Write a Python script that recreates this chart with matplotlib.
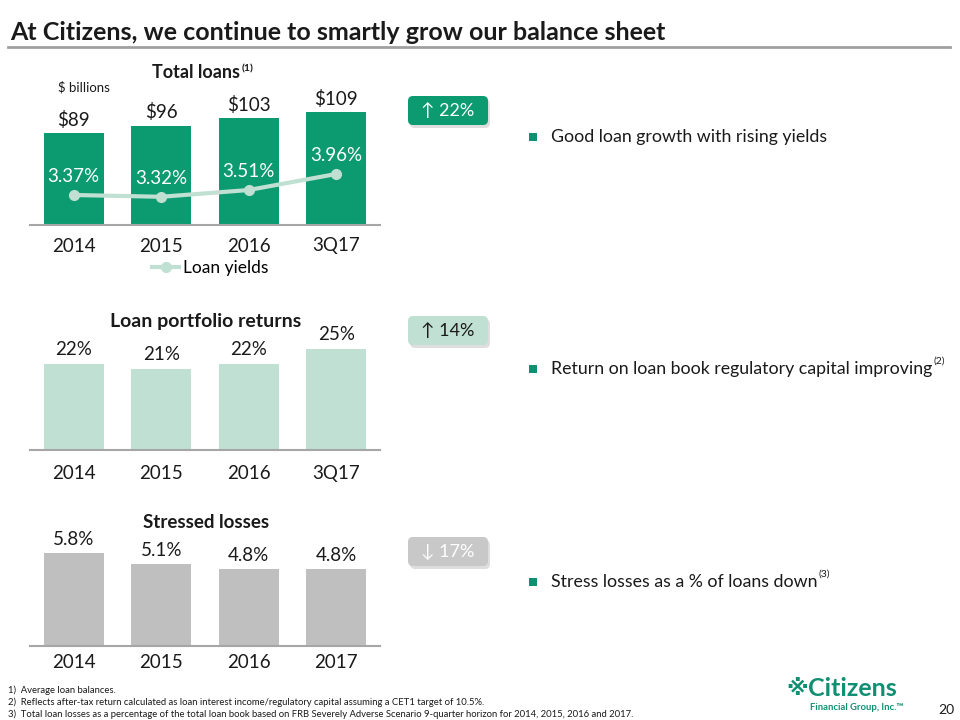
import matplotlib
matplotlib.use('Agg')
import matplotlib.pyplot as plt
from matplotlib.patches import FancyBboxPatch, Rectangle
from matplotlib.lines import Line2D

plt.rcParams['font.family'] = ['Lato', 'DejaVu Sans']

# data
years_a = ['2014', '2015', '2016', '3Q17']
years_b = ['2014', '2015', '2016', '2017']
total_loans = [89, 96, 103, 109]           # $ billions
loan_yields = [3.37, 3.32, 3.51, 3.96]      # %
portfolio_returns = [22, 21, 22, 25]        # %
stressed_losses = [5.8, 5.1, 4.8, 4.8]      # %

badges = ['\u2191 22%', '\u2191 14%', '\u2193 17%']
bullets = ['Good loan growth with rising yields',
           'Return on loan book regulatory capital improving',
           'Stress losses as a % of loans down']
bullet_notes = ['', '(2)', '(3)']
footnotes = ['1)  Average loan balances.',
             '2)  Reflects after-tax return calculated as loan interest income/regulatory capital assuming a CET1 target of 10.5%.',
             '3)  Total loan losses as a percentage of the total loan book based on FRB Severely Adverse Scenario 9-quarter horizon for 2014, 2015, 2016 and 2017.']

GREEN = '#0c9a70'
LIGHT = '#bfe0d2'
GREY = '#bfbfbf'
TXT = '#1a1a1a'

W, H = 960, 720
fig = plt.figure(figsize=(9.6, 7.2), dpi=100)


def px(x0, y0, x1, y1):
    return [x0 / W, 1 - y1 / H, (x1 - x0) / W, (y1 - y0) / H]


def style(ax, labels, pad):
    for s in ['top', 'left', 'right']:
        ax.spines[s].set_visible(False)
    ax.spines['bottom'].set_color('#a6a6a6')
    ax.spines['bottom'].set_linewidth(1.5)
    ax.set_yticks([])
    ax.set_xticks(range(len(labels)))
    ax.set_xticklabels(labels, fontsize=13.5, color=TXT)
    ax.tick_params(axis='x', length=0, pad=pad)
    ax.set_xlim(-0.5, 3.5)
    ax.patch.set_visible(False)


# chart 1: total loans + loan yields
ax1 = fig.add_axes(px(30, 80, 380, 225))
ax1.bar(range(4), total_loans, width=0.69, color=GREEN, zorder=2)
ax1.set_ylim(0, 140)
style(ax1, years_a, 9)
for i, v in enumerate(total_loans):
    ax1.annotate(f'${v}', (i, v), xytext=(0, 3), textcoords='offset points',
                 ha='center', va='bottom', fontsize=13.5, color=TXT)
ax1b = ax1.twinx()
ax1b.set_ylim(2.527, 6.60)
ax1b.axis('off')
ln, = ax1b.plot(range(4), loan_yields, color=LIGHT, lw=3, marker='o', ms=7,
                label='Loan yields', zorder=3)
for i, v in enumerate(loan_yields):
    ax1b.annotate(f'{v:.2f}%', (i, v), xytext=(0, 7), textcoords='offset points',
                  ha='center', va='bottom', fontsize=13.5, color='white')
fig.legend(handles=[ln], loc='center', bbox_to_anchor=(210 / W, 1 - 268 / H),
           frameon=False, fontsize=12.5, handlelength=1.6, handletextpad=0.2)

# chart 2: loan portfolio returns
ax2 = fig.add_axes(px(30, 330, 380, 450))
ax2.bar(range(4), portfolio_returns, width=0.69, color=LIGHT)
ax2.set_ylim(4.8, 28.8)
style(ax2, years_a, 11)
for i, v in enumerate(portfolio_returns):
    ax2.annotate(f'{v}%', (i, v), xytext=(0, 4), textcoords='offset points',
                 ha='center', va='bottom', fontsize=13.5, color=TXT)

# chart 3: stressed losses
ax3 = fig.add_axes(px(30, 530, 380, 646))
ax3.bar(range(4), stressed_losses, width=0.69, color=GREY)
ax3.set_ylim(0, 7.25)
style(ax3, years_b, 6)
for i, v in enumerate(stressed_losses):
    ax3.annotate(f'{v}%', (i, v), xytext=(0, 4), textcoords='offset points',
                 ha='center', va='bottom', fontsize=13.5, color=TXT)

# overlay in pixel units for text and decorations
ov = fig.add_axes([0, 0, 1, 1], zorder=-1)
ov.set_xlim(0, W)
ov.set_ylim(H, 0)
ov.axis('off')

ov.text(10, 33, 'At Citizens, we continue to smartly grow our balance sheet',
        fontsize=18, fontweight='bold', color=TXT, va='center')
ov.add_line(Line2D([8, 950], [47, 47], color='#a0a0a0', lw=2))

ov.text(240, 73, 'Total loans', fontsize=13, fontweight='bold', color=TXT,
        ha='right', va='center')
ov.text(242, 69, '(1)', fontsize=7.5, fontweight='bold', color=TXT, va='center')
ov.text(58, 87, '$ billions', fontsize=9.5, color=TXT, va='center')
ov.text(206, 322, 'Loan portfolio returns', fontsize=14, fontweight='bold',
        color=TXT, ha='center', va='center')
ov.text(206, 522, 'Stressed losses', fontsize=13.5, fontweight='bold',
        color=TXT, ha='center', va='center')

badge_y = [96, 316, 537]
badge_fill = [GREEN, LIGHT, '#c8c8c8']
badge_txt = ['white', TXT, 'white']
for y, t, fc, tc in zip(badge_y, badges, badge_fill, badge_txt):
    ov.add_patch(FancyBboxPatch((410, y + 3), 80, 29,
                                boxstyle='round,pad=0,rounding_size=5',
                                fc='#d0d0d0', ec='none', alpha=0.7))
    ov.add_patch(FancyBboxPatch((408, y), 80, 29,
                                boxstyle='round,pad=0,rounding_size=5',
                                fc=fc, ec='none'))
    ov.text(448, y + 15, t, fontsize=13, color=tc, ha='center', va='center')

bullet_y = [137, 369, 582]
for y, t, n in zip(bullet_y, bullets, bullet_notes):
    ov.add_patch(Rectangle((529, y - 4), 8, 8, fc='#118f73', ec='none'))
    tx = ov.text(551, y, t, fontsize=12.8, color=TXT, va='center')
    if n:
        ov.annotate(n, xy=(1, 1), xycoords=tx, xytext=(1, -3),
                    textcoords='offset points', fontsize=7.5, color=TXT,
                    va='bottom')

for i, t in enumerate(footnotes):
    ov.text(8, 690 + 12 * i, t, fontsize=6.8, color=TXT, va='center')

ov.text(786, 689, '\u203b', fontsize=16, color='#118f73', fontweight='bold',
        va='center', family=['DejaVu Sans'])
ov.text(808, 689, 'Citizens', fontsize=18, color='#118f73', fontweight='bold',
        va='center')
ov.text(857, 707, 'Financial Group, Inc.\u2122', fontsize=6.8, color='#118f73',
        fontweight='bold', ha='center', va='center')
ov.text(938, 710, '20', fontsize=10, color=TXT, va='center')

fig.savefig('out.png', dpi=100)
